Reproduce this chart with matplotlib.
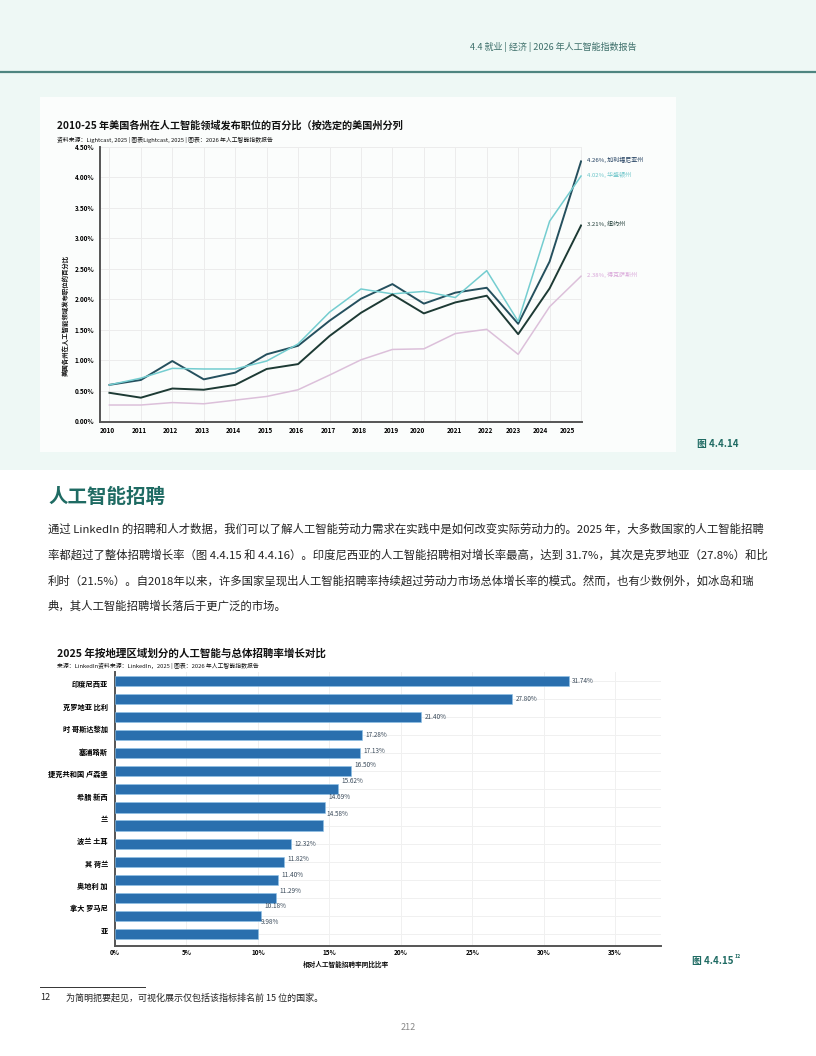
import matplotlib
matplotlib.use("Agg")
import matplotlib.pyplot as plt
from matplotlib.patches import Rectangle
from matplotlib.lines import Line2D
import numpy as np

plt.rcParams['font.family'] = ['Noto Sans CJK SC', 'DejaVu Sans']

# ---------------- data ----------------
years = list(range(2010, 2026))
california = [0.60, 0.68, 0.99, 0.69, 0.80, 1.10, 1.24, 1.65, 2.01, 2.25, 1.93, 2.11, 2.19, 1.60, 2.62, 4.26]
washington = [0.60, 0.71, 0.87, 0.86, 0.86, 0.99, 1.27, 1.79, 2.17, 2.09, 2.13, 2.03, 2.47, 1.64, 3.28, 4.02]
new_york = [0.47, 0.39, 0.54, 0.52, 0.60, 0.86, 0.94, 1.40, 1.78, 2.08, 1.77, 1.95, 2.06, 1.43, 2.18, 3.21]
texas = [0.27, 0.27, 0.31, 0.29, 0.35, 0.41, 0.52, 0.76, 1.01, 1.18, 1.19, 1.44, 1.51, 1.10, 1.88, 2.38]
state_names = ["加利福尼亚州", "华盛顿州", "纽约州", "得克萨斯州"]
y_ticks_line = [0, 0.5, 1.0, 1.5, 2.0, 2.5, 3.0, 3.5, 4.0, 4.5]

bar_labels = ["印度尼西亚", "克罗地亚 比利", "时 哥斯达黎加", "塞浦路斯", "捷克共和国 卢森堡",
              "希腊 新西", "兰", "波兰 土耳", "其 荷兰", "奥地利 加", "拿大 罗马尼", "亚"]
bar_values = [31.74, 27.80, 21.40, 17.28, 17.13, 16.50, 15.62, 14.69, 14.58,
              12.32, 11.82, 11.40, 11.29, 10.18, 9.98]
x_ticks_bar = [0, 5, 10, 15, 20, 25, 30, 35]

paragraph = [
    "通过 LinkedIn 的招聘和人才数据，我们可以了解人工智能劳动力需求在实践中是如何改变实际劳动力的。2025 年，大多数国家的人工智能招聘",
    "率都超过了整体招聘增长率（图 4.4.15 和 4.4.16）。印度尼西亚的人工智能招聘相对增长率最高，达到 31.7%，其次是克罗地亚（27.8%）和比",
    "利时（21.5%）。自2018年以来，许多国家呈现出人工智能招聘率持续超过劳动力市场总体增长率的模式。然而，也有少数例外，如冰岛和瑞",
    "典，其人工智能招聘增长落后于更广泛的市场。",
]

# ---------------- style ----------------
W, H = 816, 1056
C_CA, C_WA, C_NY, C_TX = "#25505e", "#74cdd0", "#1d3a34", "#dcc0da"
C_CA_T, C_WA_T, C_NY_T, C_TX_T = "#1d3b5c", "#6cc5c9", "#1d3a34", "#d9a6d9"
TEAL = "#1f6b63"
BAR = "#2a6fae"
tick_label_shift = [-0.08, -0.05, -0.07, -0.06, -0.05, -0.04, -0.06, -0.05, -0.05, -0.03,
                    -0.21, -0.04, -0.03, -0.16, -0.30, -0.45]
bar_label_dy_px = [0, 0, 0, 0, -2, -6, -8, -10, -12, 0, -3, -5, -7, -10, -12]


def fx(px):
    return px / W


def fy(py):
    return 1 - py / H


fig = plt.figure(figsize=(W / 100, H / 100), dpi=100, facecolor="white")

# page backgrounds
fig.patches.append(Rectangle((0, fy(470)), 1, 470 / H, transform=fig.transFigure,
                             facecolor="#eef8f5", edgecolor="none", zorder=-10))
fig.patches.append(Rectangle((fx(40), fy(452)), (676 - 40) / W, (452 - 97) / H,
                             transform=fig.transFigure, facecolor="#fbfdfc",
                             edgecolor="none", zorder=-9))
fig.lines.append(Line2D([0, 1], [fy(72), fy(72)], transform=fig.transFigure,
                        color="#4e8580", lw=1.6))
fig.text(fx(637), fy(47), "4.4 就业 | 经济 | 2026 年人工智能指数报告", ha="right", va="center",
         fontsize=6.5, color="#3d6f6a")

# ---------------- line chart ----------------
fig.text(fx(57), fy(126), "2010-25 年美国各州在人工智能领域发布职位的百分比（按选定的美国州分列",
         fontsize=7.3, fontweight="bold", va="center", color="#111111")
fig.text(fx(57), fy(140), "资料来源：Lightcast, 2025 | 图表Lightcast, 2025 | 图表：2026 年人工智能指数报告",
         fontsize=4.2, va="center", color="#111111")

ax = fig.add_axes([fx(100), fy(421.5), (582 - 100) / W, (421.5 - 146.7) / H])
ax.set_facecolor("none")
series = [(california, C_CA, C_CA_T, 1.4), (washington, C_WA, C_WA_T, 1.1),
          (new_york, C_NY, C_NY_T, 1.4), (texas, C_TX, C_TX_T, 1.1)]
for (vals, c, ct, lw), name in zip(series, state_names):
    ax.plot(years, vals, color=c, lw=lw, zorder=3)
    ax.annotate(f"{vals[-1]:.2f}%, {name}", xy=(years[-1], vals[-1]), xytext=(4, 1),
                textcoords="offset points", fontsize=4.3, color=ct, va="center",
                ha="left", annotation_clip=False)
ax.set_xlim(2009.70, 2025.03)
ax.set_ylim(0, 4.5)
ax.set_yticks(y_ticks_line)
ax.set_yticklabels([f"{v:.2f}%" for v in y_ticks_line], fontsize=4.6, fontweight="bold")
ax.set_xticks(years)
ax.set_xticklabels([])
ax.set_xticks([y + s for y, s in zip(years, tick_label_shift)], minor=True)
ax.set_xticklabels([str(y) for y in years], minor=True, fontsize=4.6, fontweight="bold")
ax.tick_params(axis="both", which="both", length=0, pad=4)
ax.grid(True, which="major", color="#ececec", lw=0.7)
for s in ["top", "right"]:
    ax.spines[s].set_visible(False)
for s in ["left", "bottom"]:
    ax.spines[s].set_color("#555555")
    ax.spines[s].set_linewidth(1.4)
fig.text(fx(65), fy(315), "美国各州在人工智能领域发布职位的百分比", rotation=90, fontsize=4.6,
         fontweight="bold", ha="center", va="center", color="#111111")
fig.text(fx(697), fy(444), "图 4.4.14", fontsize=7, fontweight="bold", color=TEAL, va="center")

# ---------------- heading & paragraph ----------------
fig.text(fx(48), fy(497), "人工智能招聘", fontsize=14, fontweight="bold", color=TEAL, va="center")
for i, line in enumerate(paragraph):
    fig.text(fx(48), fy(529 + i * 25.7), line, fontsize=8.2, color="#222222", va="center")

# ---------------- bar chart ----------------
fig.text(fx(57), fy(653), "2025 年按地理区域划分的人工智能与总体招聘率增长对比",
         fontsize=7.6, fontweight="bold", va="center", color="#111111")
fig.text(fx(57), fy(666), "来源：LinkedIn资料来源：LinkedIn，2025 | 图表：2026 年人工智能指数报告",
         fontsize=4.2, va="center", color="#111111")

bx = fig.add_axes([fx(115), fy(946), (661 - 115) / W, (946 - 672) / H])
bx.set_facecolor("none")
pos = np.arange(len(bar_values))
bx.barh(pos, bar_values, height=0.56, color=BAR, edgecolor="#8fc3e8", linewidth=0.4, zorder=3)
for p, v, dy in zip(pos, bar_values, bar_label_dy_px):
    bx.annotate(f"{v:.2f}%", xy=(v, p), xytext=(2.5, -dy * 0.72), textcoords="offset points",
                fontsize=4.6, color="#3a4a5a", va="center", ha="left")
bx.set_xlim(0, 38.2)
bx.set_ylim(len(bar_values) - 1 + 0.67, -0.5)
bx.set_xticks(x_ticks_bar)
bx.set_xticklabels([f"{t}%" for t in x_ticks_bar], fontsize=4.6, fontweight="bold")
bx.set_yticks(pos)
bx.set_yticklabels([])
bx.set_yticks(np.linspace(0.18, 13.82, len(bar_labels)), minor=True)
bx.set_yticklabels(bar_labels, minor=True, fontsize=5.2, fontweight="bold")
bx.tick_params(axis="x", which="both", length=0, pad=2)
bx.tick_params(axis="y", which="both", length=0, pad=5)
bx.grid(True, which="major", color="#f0f0f0", lw=0.7)
bx.set_axisbelow(True)
for s in ["top", "right"]:
    bx.spines[s].set_visible(False)
for s in ["left", "bottom"]:
    bx.spines[s].set_color("#555555")
    bx.spines[s].set_linewidth(1.4)
fig.text(fx(346), fy(964), "相对人工智能招聘率同比比率", fontsize=4.8, fontweight="bold",
         ha="center", va="center", color="#111111")
fig.text(fx(692), fy(961), "图 4.4.15", fontsize=7, fontweight="bold", color=TEAL, va="center")
fig.text(fx(735), fy(957), "12", fontsize=3.8, fontweight="bold", color=TEAL, va="center")

# ---------------- footnote ----------------
fig.lines.append(Line2D([fx(40), fx(145)], [fy(987), fy(987)], transform=fig.transFigure,
                        color="#333333", lw=0.7))
fig.text(fx(40), fy(998), "12", fontsize=6.5, color="#222222", va="center")
fig.text(fx(66), fy(998), "为简明扼要起见，可视化展示仅包括该指标排名前 15 位的国家。",
         fontsize=6.5, color="#222222", va="center")
fig.text(fx(408), fy(1028), "212", fontsize=6.5, color="#888888", ha="center", va="center")

fig.savefig("out.png", dpi=100, facecolor="white")
